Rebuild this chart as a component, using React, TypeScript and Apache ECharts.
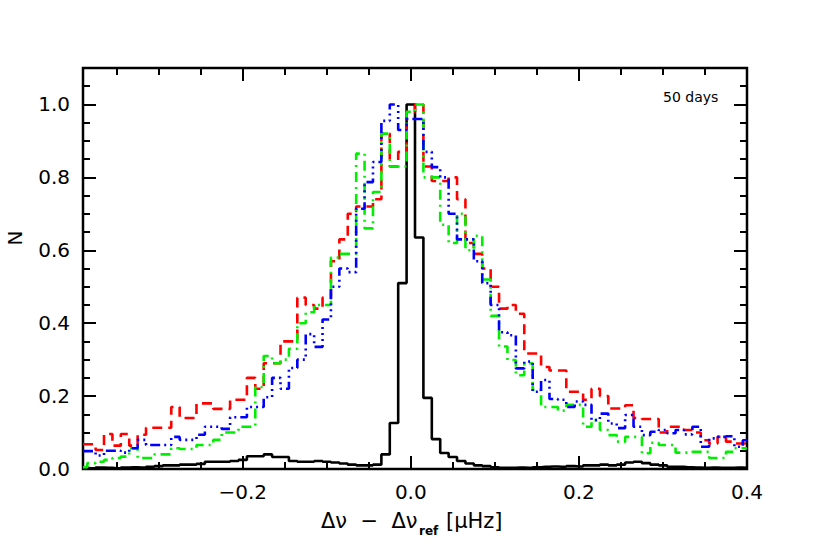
import React, { useEffect, useRef } from "react";
import * as echarts from "echarts";

// Histogram bins: centres from -0.39 to 0.40 in steps of 0.01 (80 bins)
const binFirst = -0.39;
const binWidth = 0.01;

const black = [
  0.003, 0.002, 0.004, 0.003, 0.002, 0.004, 0.005, 0.004, 0.006, 0.008,
  0.01, 0.01, 0.012, 0.012, 0.014, 0.02, 0.02, 0.02, 0.022, 0.025,
  0.035, 0.035, 0.04, 0.033, 0.033, 0.022, 0.02, 0.02, 0.022, 0.02,
  0.018, 0.015, 0.012, 0.01, 0.01, 0.012, 0.04, 0.126, 0.51, 1.0,
  0.635, 0.195, 0.082, 0.044, 0.033, 0.022, 0.015, 0.01, 0.008, 0.005,
  0.003, 0.003, 0.004, 0.003, 0.005, 0.006, 0.007, 0.006, 0.008, 0.007,
  0.01, 0.01, 0.012, 0.01, 0.012, 0.018, 0.02, 0.016, 0.012, 0.01,
  0.006, 0.006, 0.005, 0.004, 0.003, 0.004, 0.003, 0.003, 0.004, 0.003,
];

const red = [
  0.068, 0.068, 0.052, 0.096, 0.064, 0.096, 0.064, 0.094, 0.113, 0.113,
  0.113, 0.17, 0.14, 0.14, 0.18, 0.18, 0.165, 0.165, 0.19, 0.19,
  0.25, 0.22, 0.29, 0.29, 0.35, 0.35, 0.47, 0.45, 0.44, 0.47,
  0.57, 0.63, 0.7, 0.72, 0.72, 0.74, 0.92, 0.83, 0.87, 0.98,
  1.0, 0.83, 0.79, 0.79, 0.8, 0.74, 0.62, 0.59, 0.55, 0.5,
  0.44, 0.45, 0.426, 0.317, 0.317, 0.28, 0.27, 0.27, 0.212, 0.212,
  0.19, 0.22, 0.2, 0.166, 0.166, 0.175, 0.14, 0.137, 0.137, 0.1,
  0.116, 0.116, 0.107, 0.1, 0.079, 0.07, 0.088, 0.075, 0.07, 0.07,
];

const blue = [
  0.049, 0.049, 0.037, 0.05, 0.05, 0.045, 0.057, 0.08, 0.066, 0.066,
  0.066, 0.088, 0.08, 0.08, 0.094, 0.116, 0.116, 0.11, 0.142, 0.142,
  0.17, 0.17, 0.197, 0.25, 0.22, 0.277, 0.3, 0.37, 0.335, 0.41,
  0.5, 0.55, 0.54, 0.714, 0.787, 0.842, 0.955, 1.0, 0.93, 0.96,
  0.96, 0.87, 0.828, 0.8, 0.7, 0.63, 0.63, 0.57, 0.51, 0.45,
  0.375, 0.367, 0.276, 0.295, 0.212, 0.244, 0.192, 0.19, 0.17, 0.185,
  0.176, 0.134, 0.152, 0.125, 0.112, 0.148, 0.116, 0.093, 0.102, 0.107,
  0.098, 0.107, 0.095, 0.116, 0.061, 0.084, 0.088, 0.09, 0.061, 0.079,
];

const green = [
  0.005, 0.016, 0.02, 0.025, 0.03, 0.034, 0.057, 0.03, 0.03, 0.04,
  0.04, 0.057, 0.055, 0.055, 0.066, 0.066, 0.08, 0.1, 0.1, 0.116,
  0.116, 0.225, 0.31, 0.29, 0.3, 0.33, 0.4, 0.43, 0.45, 0.45,
  0.58, 0.59, 0.59, 0.865, 0.66, 0.76, 0.92, 0.83, 0.83, 0.98,
  1.0, 0.8, 0.8, 0.67, 0.62, 0.7, 0.6, 0.64, 0.52, 0.42,
  0.336, 0.299, 0.257, 0.29, 0.217, 0.17, 0.17, 0.16, 0.176, 0.176,
  0.116, 0.134, 0.107, 0.093, 0.075, 0.088, 0.088, 0.043, 0.072, 0.066,
  0.066, 0.045, 0.045, 0.047, 0.047, 0.03, 0.03, 0.047, 0.057, 0.057,
];

const xMajor = [-0.2, 0.0, 0.2, 0.4];
const xMinor = [-0.35, -0.3, -0.25, -0.15, -0.1, -0.05, 0.05, 0.1, 0.15, 0.25, 0.3, 0.35];
const yMajor = [0.0, 0.2, 0.4, 0.6, 0.8, 1.0];
const yMinor = [0.05, 0.1, 0.15, 0.25, 0.3, 0.35, 0.45, 0.5, 0.55, 0.65, 0.7, 0.75, 0.85, 0.9, 0.95, 1.05];

const X_MIN = -0.39;
const X_MAX = 0.4;
const Y_MIN = 0;
const Y_MAX = 1.1;

const FONT = "DejaVu Sans";

const fmt = (v: number) => {
  const s = Math.abs(v) < 1e-9 ? "0.0" : v.toFixed(1);
  return s.replace("-", "\u2212");
};

function toPairs(vals: number[]) {
  return vals.map((v, i) => [+(binFirst + i * binWidth).toFixed(3), v]);
}

export default function App() {
  const ref = useRef<HTMLDivElement>(null);
  useEffect(() => {
    if (!ref.current) return;
    const chart = echarts.init(ref.current, undefined, { renderer: "svg" });

    const axis = (
      position: string,
      min: number,
      max: number,
      ticks: number[],
      len: number,
      labels: boolean
    ) => ({
      type: "value",
      position,
      min,
      max,
      axisLine: { show: false, onZero: false },
      splitLine: { show: false },
      axisTick: {
        show: true,
        inside: true,
        length: len,
        customValues: ticks,
        lineStyle: { color: "#000", width: 2 },
      },
      axisLabel: labels
        ? {
            show: true,
            customValues: ticks,
            formatter: fmt,
            margin: 13,
            color: "#000",
            fontSize: 20,
            fontFamily: FONT,
            showMinLabel: true,
            showMaxLabel: true,
          }
        : { show: false },
    });

    const line = (vals: number[], color: string, type: any, width: number, z: number) => ({
      type: "line",
      step: "middle",
      data: toPairs(vals),
      showSymbol: false,
      symbol: "none",
      xAxisIndex: 0,
      yAxisIndex: 0,
      clip: true,
      z,
      lineStyle: { color, width, type },
      emphasis: { disabled: true },
    });

    chart.setOption({
      animation: false,
      grid: {
        left: 83,
        right: 83,
        top: 68,
        bottom: 84,
        show: true,
        borderColor: "#000",
        borderWidth: 2.5,
        backgroundColor: "transparent",
      },
      xAxis: [
        axis("bottom", X_MIN, X_MAX, xMajor, 13, true),
        axis("bottom", X_MIN, X_MAX, xMinor, 7, false),
        axis("top", X_MIN, X_MAX, xMajor, 13, false),
        axis("top", X_MIN, X_MAX, xMinor, 7, false),
      ],
      yAxis: [
        axis("left", Y_MIN, Y_MAX, yMajor, 13, true),
        axis("left", Y_MIN, Y_MAX, yMinor, 7, false),
        axis("right", Y_MIN, Y_MAX, yMajor, 13, false),
        axis("right", Y_MIN, Y_MAX, yMinor, 7, false),
      ],
      series: [
        line(black, "#000000", "solid", 2.6, 2),
        line(red, "#ff0000", [10, 6], 2.6, 3),
        line(green, "#00ee00", [10, 5, 2, 5], 2.6, 4),
        line(blue, "#0000ff", [10, 4, 2, 4, 2, 4, 2, 4], 2.6, 5),
      ],
      graphic: [
        {
          type: "text",
          left: 663,
          top: 90,
          style: { text: "50 days", fontSize: 14, fontFamily: FONT, fill: "#000" },
        },
        {
          type: "text",
          x: 321,
          y: 521,
          style: {
            text: "\u0394\u03bd  \u2212  \u0394\u03bd",
            fontSize: 21,
            fontFamily: FONT,
            fill: "#000",
            align: "left",
            verticalAlign: "middle",
          },
        },
        {
          type: "text",
          x: 419,
          y: 531,
          style: {
            text: "ref",
            fontSize: 12,
            fontWeight: "bold",
            fontFamily: FONT,
            fill: "#000",
            align: "left",
            verticalAlign: "middle",
          },
        },
        {
          type: "text",
          x: 446,
          y: 521,
          style: {
            text: "[\u03bcHz]",
            fontSize: 21,
            fontFamily: FONT,
            fill: "#000",
            align: "left",
            verticalAlign: "middle",
          },
        },
        {
          type: "text",
          x: 15,
          y: 238,
          rotation: Math.PI / 2,
          style: {
            text: "N",
            fontSize: 20,
            fontFamily: FONT,
            fill: "#000",
            align: "center",
            verticalAlign: "middle",
          },
        },
      ],
    });
    return () => chart.dispose();
  }, []);
  return (
    <div
      ref={ref}
      style={{ position: "fixed", left: 0, top: 0, width: 830, height: 553, background: "#fff" }}
    />
  );
}
